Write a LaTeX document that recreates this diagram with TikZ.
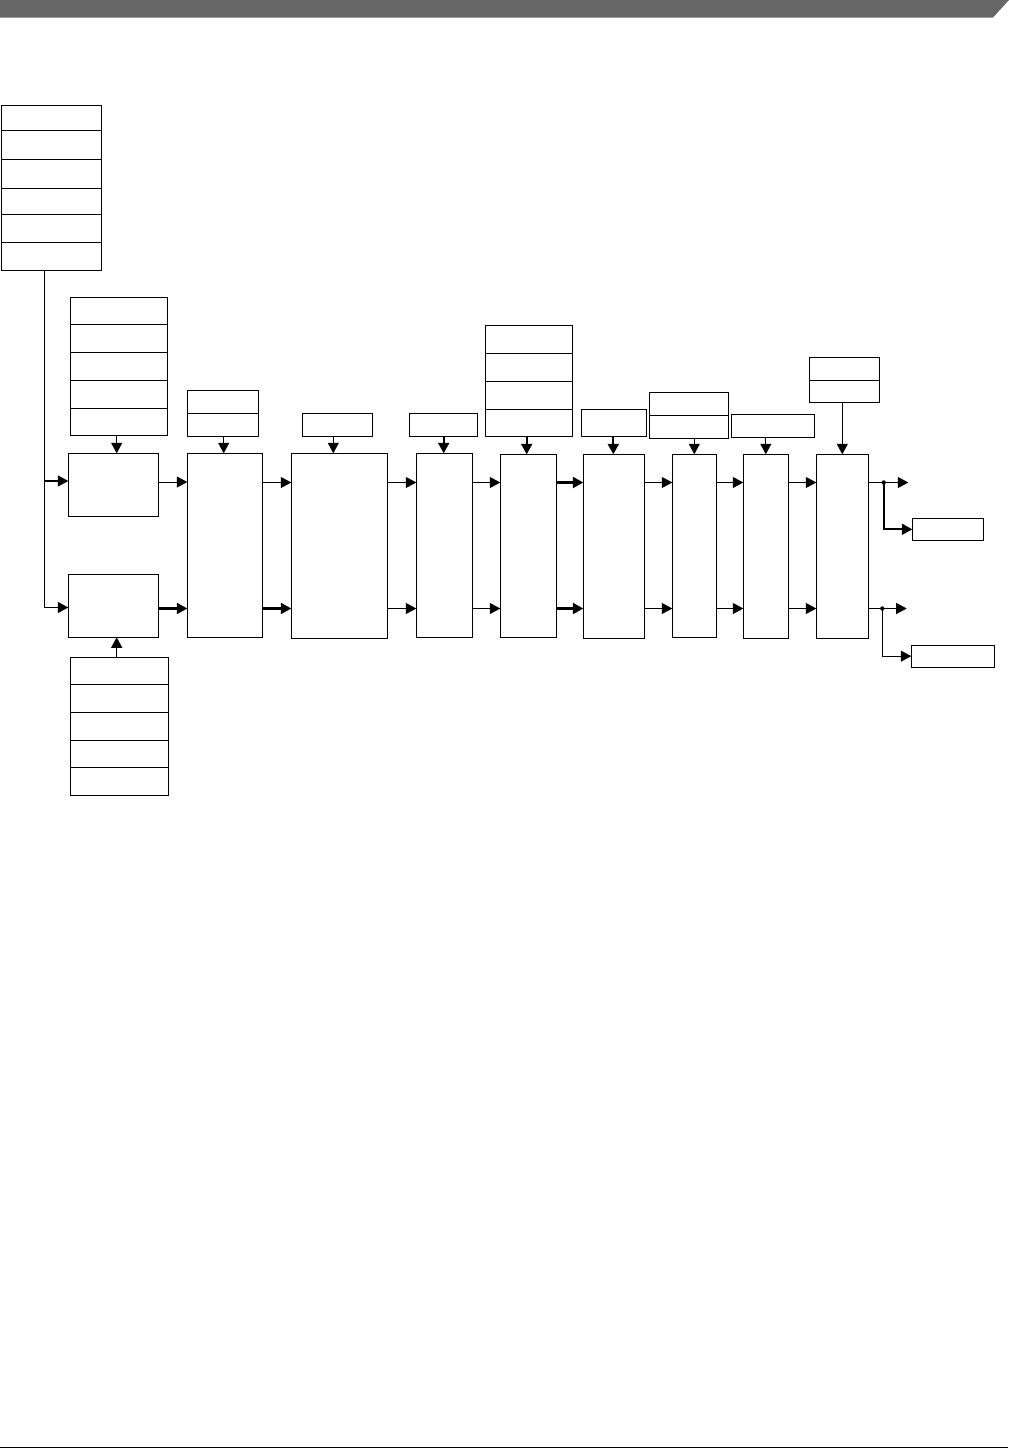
\documentclass[tikz,border=0pt]{standalone}
\usetikzlibrary{arrows.meta}
\definecolor{hdr}{HTML}{666666}
\tikzset{
  box/.style={draw=black,line width=1pt,inner sep=0pt,outer sep=0pt,fill=white},
  arr/.style={line width=1pt,-{Triangle[length=10.5pt,width=11pt]}},
  tarr/.style={line width=2.2pt,-{Triangle[length=10.5pt,width=11pt]}},
  ln/.style={line width=1pt},
  dotm/.style={fill=black,draw=none},
}
\newcommand\cell[5]{\node[box,minimum width={(#4-#2)*1pt},minimum height={(#5-#3)*1pt}] (#1) at ({(#2+#4)/2},{(#3+#5)/2}) {};}
\newcommand\stackbox[4]{% name, x1, x2, list of y
  \foreach \yy [count=\k, remember=\yy as \py (initially none)] in {#4}{%
    \ifx\py\none\else
      \pgfmathtruncatemacro\kk{\k-1}%
      \node[box,minimum width={(#3-#2)*1pt},minimum height={(\yy-\py)*1pt}] (#1\kk) at ({(#2+#3)/2},{(\py+\yy)/2}) {};
    \fi
  }%
}
\def\none{none}
\begin{document}
\begin{tikzpicture}[x=1pt,y=-1pt]
\useasboundingbox (0,0) rectangle (1009,1449);
% header and footer
\fill[hdr] (0,0) -- (1009,0) -- (993,17.5) -- (0,17.5) -- cycle;
\draw[line width=1.5pt] (0,1447.5) -- (1008,1447.5);

% stacks
\stackbox{A}{1.3}{101.7}{105.3,130,159.3,188.3,214.3,242.3,270.3}
\stackbox{B}{70.3}{167.3}{297.3,324.3,352.3,380.3,408.3,435.3}
\stackbox{R}{70.3}{168.3}{657.3,684.3,712.3,740.3,767.3,795.3}
\stackbox{E}{187.3}{258.7}{390.3,413.3,436.3}
\stackbox{H}{485.3}{572.7}{325.3,353.3,381.3,409.3,436.3}
\stackbox{K}{649.3}{728.3}{392.3,415.3,438.3}
\stackbox{N}{809.3}{879.3}{357.3,380.3,402.3}

% single boxes
\cell{C1}{68.3}{453.3}{158.7}{516.3}
\cell{C2}{68.3}{574.3}{158.7}{637.3}
\cell{D}{187.3}{453.3}{262.3}{637.3}
\cell{Fs}{302.3}{413.3}{372.3}{436.3}
\cell{F}{291.3}{453.3}{387.3}{638.3}
\cell{Gs}{409.3}{413.3}{477.3}{436.3}
\cell{G}{416.3}{453.3}{472.7}{637.3}
\cell{I}{500.3}{454.3}{556.3}{637.3}
\cell{Js}{581.3}{409.3}{646.3}{436.3}
\cell{J}{583.3}{454.3}{644.3}{638.3}
\cell{L}{672.3}{454.3}{716.3}{637}
\cell{Ms}{731.3}{414.3}{814.3}{437.3}
\cell{M}{743.3}{454.3}{788.3}{638.3}
\cell{O}{816.3}{454.3}{868.3}{638.3}
\cell{P}{912.3}{518.3}{983.3}{540.3}
\cell{Q}{911.3}{645.3}{994.3}{667}

% vertical feeds
\draw[arr] (B5.south -| 116.7,0) -- (C1.north -| 116.7,0);
\draw[arr] (R1.north -| 116.7,0) -- (C2.south -| 116.7,0);
\draw[arr] (E2.south -| 223.7,0) -- (D.north -| 223.7,0);
\draw[arr] (Fs.south -| 333.3,0) -- (F.north -| 333.3,0);
\draw[tarr] (Gs.south -| 443.7,0) -- (G.north -| 443.7,0);
\draw[tarr] (H4.south -| 526.7,0) -- (I.north -| 526.7,0);
\draw[tarr] (Js.south -| 613.3,0) -- (J.north -| 613.3,0);
\draw[arr] (K2.south -| L.north) -- (L.north);
\draw[arr] (Ms.south -| M.north) -- (M.north);
\draw[arr] (N2.south -| O.north) -- (O.north);

% left trunk
\coordinate (t0) at (44.5,270.3);
\draw[arr,line width=1.2pt] (t0) |- (C1.west |- 0,481);
\draw[arr,line width=1.2pt] (t0) |- (C2.west |- 0,607.5);

% horizontal arrows
\def\ru{482.5}\def\rl{608.5}
\draw[arr]  (C1.east |- 0,482) -- (D.west |- 0,482);
\draw[tarr] (C2.east |- 0,\rl) -- (D.west |- 0,\rl);
\draw[arr]  (D.east |- 0,\ru) -- (F.west |- 0,\ru);
\draw[tarr] (D.east |- 0,\rl) -- (F.west |- 0,\rl);
\draw[arr]  (F.east |- 0,\ru) -- (G.west |- 0,\ru);
\draw[arr]  (F.east |- 0,\rl) -- (G.west |- 0,\rl);
\draw[arr]  (G.east |- 0,\ru) -- (I.west |- 0,\ru);
\draw[arr]  (G.east |- 0,\rl) -- (I.west |- 0,\rl);
\draw[tarr] (I.east |- 0,\ru) -- (J.west |- 0,\ru);
\draw[tarr] (I.east |- 0,\rl) -- (J.west |- 0,\rl);
\draw[arr]  (J.east |- 0,\ru) -- (L.west |- 0,\ru);
\draw[arr]  (J.east |- 0,\rl) -- (L.west |- 0,\rl);
\draw[arr]  (L.east |- 0,\ru) -- (M.west |- 0,\ru);
\draw[arr]  (L.east |- 0,\rl) -- (M.west |- 0,\rl);
\draw[arr]  (M.east |- 0,\ru) -- (O.west |- 0,\ru);
\draw[arr]  (M.east |- 0,\rl) -- (O.west |- 0,\rl);

% outputs
\coordinate (ou) at (908.3,\ru);
\coordinate (ol) at (906.7,\rl);
\coordinate (du) at (883.7,\ru);
\coordinate (dl) at (882.3,\rl);
\draw[arr] (O.east |- 0,\ru) -- (ou);
\draw[arr] (O.east |- 0,\rl) -- (ol);
\draw[tarr] (du) |- (P.west);
\draw[arr] (dl) |- (Q.west);
\fill[dotm] (du) circle (2.2pt);
\fill[dotm] (dl) circle (2.2pt);
\end{tikzpicture}
\end{document}
